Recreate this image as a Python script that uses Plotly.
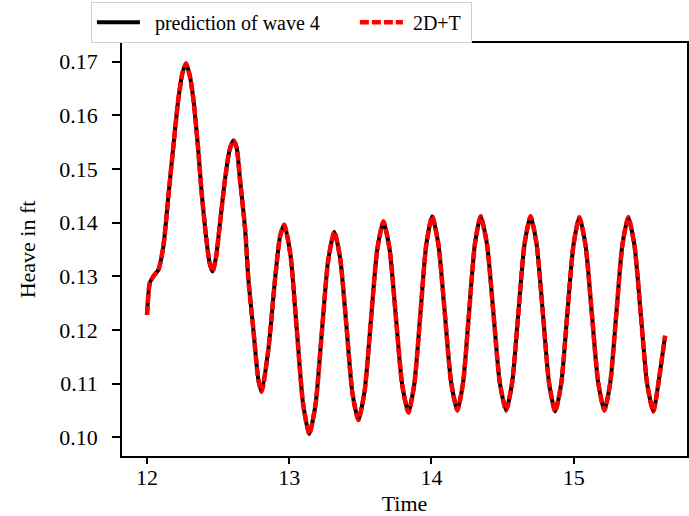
import plotly.graph_objects as go

# Time values
time = [
    12.000, 12.020, 12.050, 12.080, 12.115, 12.150, 12.185, 12.220, 12.250, 12.274,
    12.300, 12.326, 12.360, 12.384, 12.415, 12.440, 12.461, 12.485, 12.508, 12.548,
    12.580, 12.607, 12.630, 12.654, 12.690, 12.713, 12.748, 12.783, 12.806,
    12.853, 12.900, 12.935, 12.965,
    13.009, 13.053, 13.097, 13.141,
    13.185, 13.229, 13.273, 13.317,
    13.359, 13.402, 13.444, 13.486,
    13.530, 13.574, 13.618, 13.662,
    13.706, 13.750, 13.794, 13.838,
    13.880, 13.922, 13.963, 14.005,
    14.049, 14.094, 14.138, 14.182,
    14.223, 14.264, 14.305, 14.346,
    14.391, 14.436, 14.480, 14.525,
    14.568, 14.611, 14.654, 14.697,
    14.740, 14.784, 14.827, 14.870,
    14.913, 14.955, 14.998, 15.040,
    15.084, 15.128, 15.172, 15.216,
    15.258, 15.300, 15.342, 15.384,
    15.428, 15.472, 15.516, 15.560,
    15.600, 15.643,
]

# Heave values (ft) for the prediction of wave 4
heave_prediction = [
    0.1228, 0.1288, 0.1302, 0.1312, 0.1356, 0.1449, 0.1542, 0.1630, 0.1680, 0.1697,
    0.1675, 0.1630, 0.1536, 0.1456, 0.1374, 0.1325, 0.1309, 0.1335, 0.1387, 0.1480,
    0.1535, 0.1553, 0.1540, 0.1480, 0.1387, 0.1294, 0.1200, 0.1107, 0.1085,
    0.1163, 0.1294, 0.1374, 0.1396,
    0.1339, 0.1201, 0.1063, 0.1006,
    0.1061, 0.1195, 0.1328, 0.1383,
    0.1332, 0.1208, 0.1083, 0.1032,
    0.1086, 0.1217, 0.1348, 0.1402,
    0.1350, 0.1224, 0.1098, 0.1046,
    0.1100, 0.1229, 0.1358, 0.1412,
    0.1359, 0.1231, 0.1103, 0.1050,
    0.1103, 0.1231, 0.1359, 0.1412,
    0.1359, 0.1231, 0.1103, 0.1050,
    0.1103, 0.1231, 0.1359, 0.1412,
    0.1359, 0.1230, 0.1101, 0.1048,
    0.1101, 0.1229, 0.1357, 0.1410,
    0.1357, 0.1230, 0.1103, 0.1050,
    0.1103, 0.1230, 0.1357, 0.1410,
    0.1357, 0.1229, 0.1101, 0.1048,
    0.1108, 0.1189,
]

# 2D+T values coincide with the prediction in the picture
heave_2dt = list(heave_prediction)

x_ticks = [12, 13, 14, 15]
y_ticks = [0.10, 0.11, 0.12, 0.13, 0.14, 0.15, 0.16, 0.17]
y_tick_labels = ["0.10", "0.11", "0.12", "0.13", "0.14", "0.15", "0.16", "0.17"]

FONT = "Liberation Serif, Times New Roman, serif"
NB = "\u00a0"

fig = go.Figure()
fig.add_trace(go.Scatter(
    x=time, y=heave_prediction, mode="lines",
    name=NB * 2 + "prediction of wave 4" + NB * 6,
    line=dict(color="black", width=4, shape="spline", smoothing=0.6),
))
fig.add_trace(go.Scatter(
    x=time, y=heave_2dt, mode="lines", name=NB + "2D+T" + NB,
    line=dict(color="#ff0000", width=4.5, dash="9px,3px", shape="spline", smoothing=0.6),
))

fig.update_layout(
    width=689, height=516,
    margin=dict(l=122, r=2, t=43, b=60, autoexpand=False),
    paper_bgcolor="white", plot_bgcolor="white",
    font=dict(family=FONT, size=22, color="black"),
    showlegend=True,
    legend=dict(
        orientation="h", x=-0.055, y=1.10, xanchor="left", yanchor="top",
        bordercolor="#d0d0d0", borderwidth=1, bgcolor="white",
        font=dict(family=FONT, size=20), itemwidth=43,
    ),
    xaxis=dict(
        range=[11.824, 15.797], tickvals=x_ticks, ticks="outside", ticklen=6,
        tickwidth=1.5, tickcolor="black", showline=True, linecolor="black",
        linewidth=1.5, mirror=True, showgrid=False, zeroline=False,
        ticklabelstandoff=-5,
        title=dict(text="Time", standoff=8, font=dict(size=22)),
        tickfont=dict(size=22),
    ),
    yaxis=dict(
        range=[0.0965, 0.1735], tickvals=y_ticks, ticktext=y_tick_labels,
        ticks="outside", ticklen=8, tickwidth=1.5, tickcolor="black",
        showline=True, linecolor="black", linewidth=1.5, mirror=True,
        showgrid=False, zeroline=False, ticklabelstandoff=10,
        title=dict(text="Heave in ft", standoff=18, font=dict(size=22)),
        tickfont=dict(size=22),
    ),
)

fig.write_html(
    "out.html",
    config={"displayModeBar": False},
    post_script="document.body.style.margin='0';document.body.style.padding='0';",
)
